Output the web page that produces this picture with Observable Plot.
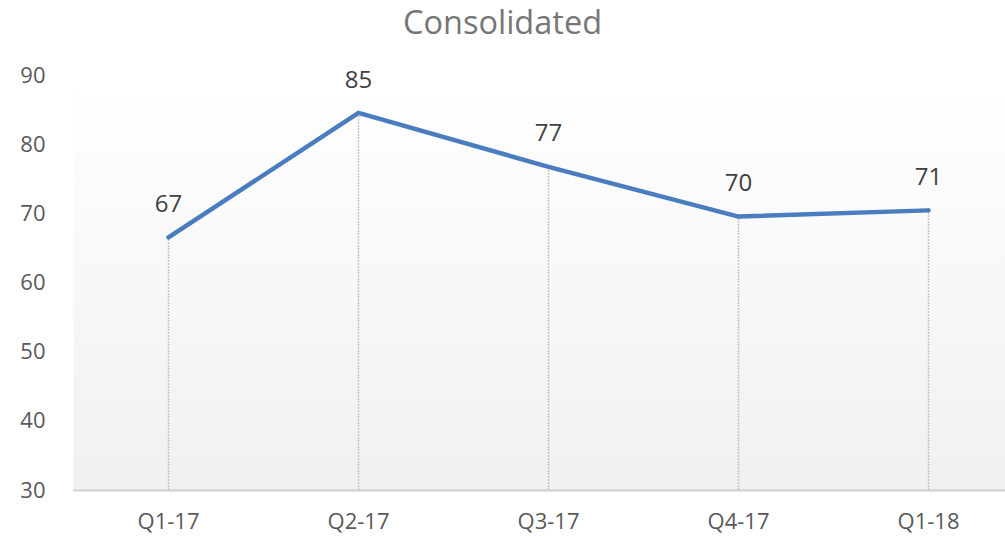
<!DOCTYPE html>
<html>
<head>
<meta charset="utf-8">
<script src="https://cdn.jsdelivr.net/npm/d3@7"></script>
<script src="https://cdn.jsdelivr.net/npm/@observablehq/plot@0.6"></script>
<style>
  html, body { margin: 0; padding: 0; background: #fff; overflow: hidden; }
  #title { height: 45px; line-height: 44px; text-align: center; font-family: "Open Sans", sans-serif; font-size: 32.5px; color: #767676; }
</style>
</head>
<body>
<div id="title">Consolidated</div>
<div id="chart"></div>
<script>
const quarters = ["Q1-17", "Q2-17", "Q3-17", "Q4-17", "Q1-18"];
const scores = [66.6, 84.6, 76.8, 69.6, 70.5];
const labels = ["67", "85", "77", "70", "71"];
const yTicks = [30, 40, 50, 60, 70, 80, 90];

const data = quarters.map((q, i) => ({q, v: scores[i], label: labels[i]}));

const chart = Plot.plot({
  width: 1005,
  height: 491,
  marginTop: 30,
  marginBottom: 46,
  marginLeft: 73,
  marginRight: -18,
  style: {fontFamily: "'Open Sans', sans-serif", background: "transparent", overflow: "visible"},
  x: {type: "point", domain: quarters, padding: 0.5, label: null},
  y: {domain: [30, 90], label: null},
  marks: [
    () => {
      const ns = "http://www.w3.org/2000/svg";
      const defs = document.createElementNS(ns, "defs");
      defs.innerHTML = `<linearGradient id="bg" x1="0" y1="0" x2="0" y2="1">
        <stop offset="0%" stop-color="#ffffff"/>
        <stop offset="100%" stop-color="#f0f0f0"/>
      </linearGradient>`;
      return defs;
    },
    Plot.frame({fill: "url(#bg)", stroke: null}),
    Plot.ruleX(data, {x: "q", y1: 30, y2: "v", stroke: "#c4c4c4", strokeWidth: 1.5, strokeDasharray: "2,1"}),
    Plot.ruleY([30], {stroke: "#d0d0d0", strokeWidth: 2}),
    Plot.axisY({ticks: yTicks, tickSize: 0, tickPadding: 28, fontSize: 22, color: "#595959", label: null}),
    Plot.axisX({tickSize: 0, tickPadding: 23, fontSize: 22, color: "#595959", label: null}),
    Plot.line(data, {x: "q", y: "v", stroke: "#4a7dbf", strokeWidth: 4.5, strokeLinejoin: "round"}),
    Plot.text(data, {x: "q", y: "v", text: "label", dy: -33, fontSize: 24, fill: "#404040"})
  ]
});
document.getElementById("chart").appendChild(chart);
</script>
</body>
</html>
